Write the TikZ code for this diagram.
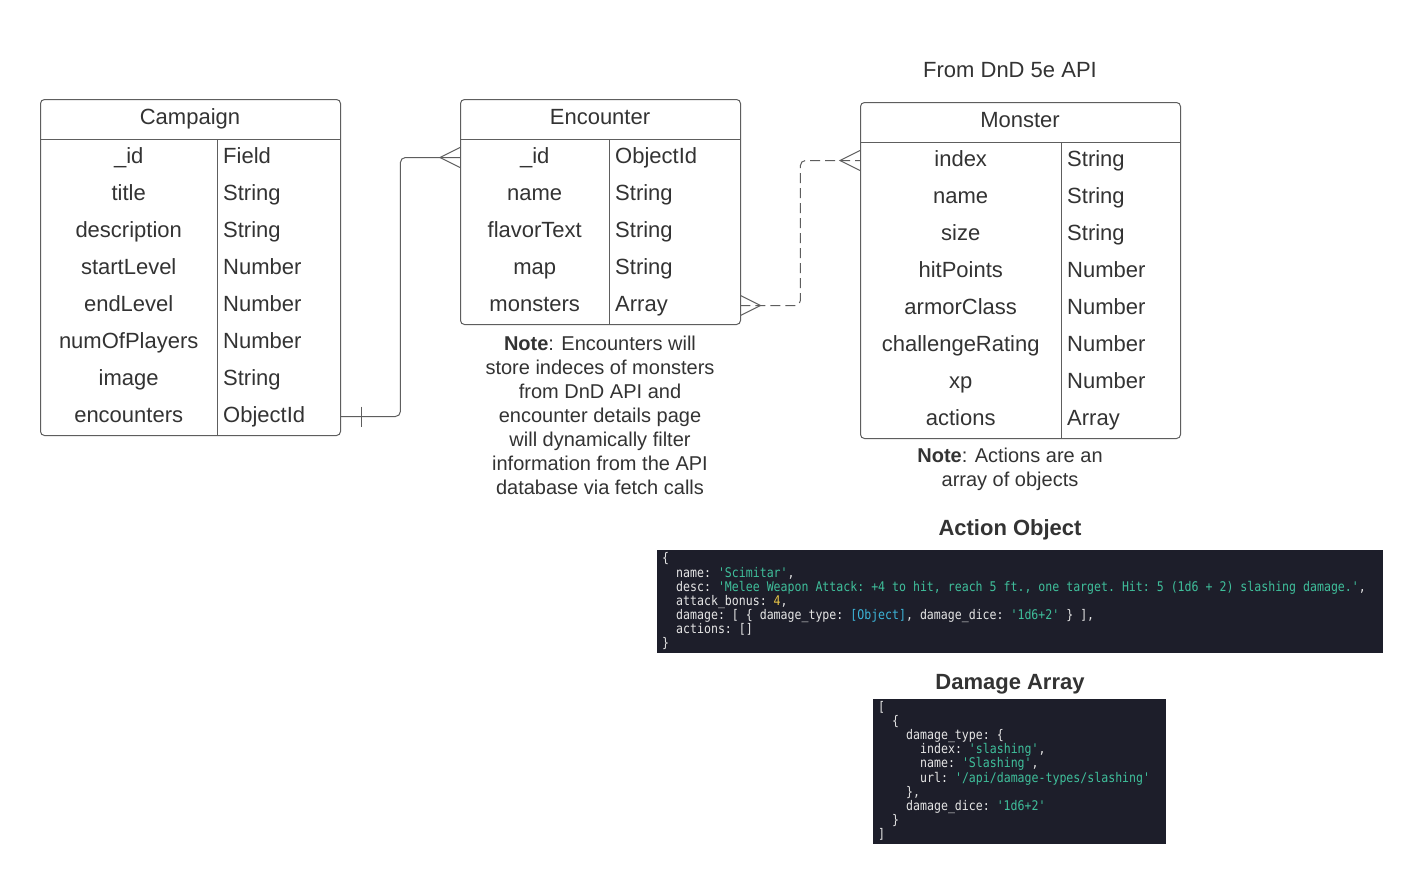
\documentclass[tikz,border=0pt]{standalone}
\usepackage{fontspec}
\setmainfont{Liberation Sans}
\setmonofont{DejaVu Sans Mono}[FakeStretch=0.87]
\usetikzlibrary{calc}
\definecolor{textc}{HTML}{333333}
\definecolor{linec}{HTML}{5E5E5E}
\definecolor{bgc}{HTML}{1D1E2A}
\definecolor{keyc}{HTML}{E6E6E6}
\definecolor{strc}{HTML}{3FBF9B}
\definecolor{numc}{HTML}{E8C547}
\definecolor{objc}{HTML}{3CB4D8}
\tikzset{
  tbox/.style={draw=linec, line width=1pt, rounded corners=4pt, inner sep=0pt, anchor=north west},
  hdr/.style={text=textc, font=\fontsize{22}{26}\selectfont, inner sep=0pt, text height=16pt, text depth=5pt},
  lcell/.style={text=textc, font=\fontsize{22}{26}\selectfont, inner sep=0pt, minimum height=37pt, anchor=west, text height=16pt, text depth=5pt},
  rcell/.style={text=textc, font=\fontsize{22}{26}\selectfont, inner xsep=6pt, inner ysep=0pt, minimum height=37pt, anchor=west, align=left, text height=16pt, text depth=5pt},
  sep/.style={draw=linec, line width=1pt},
  conn/.style={draw=linec, line width=1pt, rounded corners=5pt},
  dconn/.style={conn, dash pattern=on 10pt off 5pt},
  note/.style={text=textc, font=\fontsize{20}{24}\selectfont, align=center, inner sep=0pt},
  title/.style={text=textc, font=\bfseries\fontsize{22}{26}\selectfont, inner sep=0pt, anchor=base},
  codebg/.style={fill=bgc, draw=none, inner sep=0pt, anchor=north west},
  code/.style={text=keyc, font=\ttfamily\fontsize{13.3}{14}\selectfont, inner sep=0pt, anchor=base west}
}
\newcommand\str[1]{\textcolor{strc}{#1}}
\begin{document}
\begin{tikzpicture}[x=1pt,y=-1pt]
\fill[white] (0,0) rectangle (1423,884);
\useasboundingbox (0,0) rectangle (1423,884);

% ---------- Campaign ----------
\node[tbox, minimum width=300pt, minimum height=336pt] (camp) at (40,99) {};
\node[hdr] (camp-h) at (190,119) {Campaign};
\draw[sep] (40,139) -- (340,139);
\draw[sep] (217,139) -- (217,435);
\foreach \f/\t [count=\i] in {\_id/Field, title/String, description/String, startLevel/Number, endLevel/Number, numOfPlayers/Number, image/String, encounters/ObjectId}{
  \node[lcell, minimum width=177pt] (campL\i) at (40,{139+37*\i-18.5}) {\f};
  \node[rcell, text width=111pt] (campT\i) at (217,{139+37*\i-18.5}) {\t};
}

% ---------- Encounter ----------
\node[tbox, minimum width=280pt, minimum height=225pt] (enc) at (460,99) {};
\node[hdr] (enc-h) at (600,119) {Encounter};
\draw[sep] (460,139) -- (740,139);
\draw[sep] (609,139) -- (609,324);
\foreach \f/\t [count=\i] in {\_id/ObjectId, name/String, flavorText/String, map/String, monsters/Array}{
  \node[lcell, minimum width=149pt] (encL\i) at (460,{139+37*\i-18.5}) {\f};
  \node[rcell, text width=119pt] (encT\i) at (609,{139+37*\i-18.5}) {\t};
}

% ---------- Monster ----------
\node[title, font=\fontsize{22}{26}\selectfont] (api) at (1010,77) {From DnD 5e API};
\node[tbox, minimum width=320pt, minimum height=336pt] (mon) at (860,102) {};
\node[hdr] (mon-h) at (1020,122) {Monster};
\draw[sep] (860,142) -- (1180,142);
\draw[sep] (1061,142) -- (1061,438);
\foreach \f/\t [count=\i] in {index/String, name/String, size/String, hitPoints/Number, armorClass/Number, challengeRating/Number, xp/Number, actions/Array}{
  \node[lcell, minimum width=201pt] (monL\i) at (860,{142+37*\i-18.5}) {\f};
  \node[rcell, text width=107pt] (monT\i) at (1061,{142+37*\i-18.5}) {\t};
}

% ---------- Connectors ----------
% Campaign.encounters  -> Encounter._id  (one to many)
\draw[conn] (campT8.east) -- ++(60,0) |- (encL1.west);
\draw[draw=linec, line width=1pt] ($(campT8.east)+(21,-10)$) -- ($(campT8.east)+(21,10)$);
\draw[draw=linec, line width=1pt] ($(encL1.west)+(0,-10)$) -- ($(encL1.west)+(-20,0)$) -- ($(encL1.west)+(0,10)$);
% Encounter.monsters -> Monster.index (many to many, dashed)
\draw[dconn] (encT5.east) -- ++(60,0) |- (monL1.west);
\draw[draw=linec, line width=1pt] ($(encT5.east)+(0,-10)$) -- ($(encT5.east)+(20,0)$) -- ($(encT5.east)+(0,10)$);
\draw[draw=linec, line width=1pt] ($(monL1.west)+(0,-10)$) -- ($(monL1.west)+(-20,0)$) -- ($(monL1.west)+(0,10)$);

% ---------- Notes ----------
\node[note, anchor=north] (enc-note) at (600,336) {\textbf{Note}: Encounters will\\store indeces of monsters\\from DnD API and\\encounter details page\\will dynamically filter\\information from the API\\database via fetch calls};
\node[note, anchor=north] (mon-note) at (1010,448) {\textbf{Note}: Actions are an\\array of objects};

% ---------- Action Object ----------
\node[title] (act-t) at (1010,535) {Action Object};
\node[codebg, minimum width=726pt, minimum height=103pt] (act) at (657,550) {};
\node[code] (a1) at (662,562) {\{};
\node[code] (a2) at (676,577) {name: \str{'Scimitar'},};
\node[code] (a3) at (676,591) {desc: \str{'Melee Weapon Attack: +4 to hit, reach 5 ft., one target. Hit: 5 (1d6 + 2) slashing damage.'},};
\node[code] (a4) at (676,605) {attack\_bonus: \textcolor{numc}{4},};
\node[code] (a5) at (676,619) {damage: [ \{ damage\_type: \textcolor{objc}{[Object]}, damage\_dice: \str{'1d6+2'} \} ],};
\node[code] (a6) at (676,633) {actions: []};
\node[code] (a7) at (662,647) {\}};

% ---------- Damage Array ----------
\node[title] (dmg-t) at (1010,689) {Damage Array};
\node[codebg, minimum width=293pt, minimum height=145pt] (dmg) at (873,699) {};
\node[code] (d1) at (878,711) {[};
\node[code] (d2) at (892,725.2) {\{};
\node[code] (d3) at (906,739.4) {damage\_type: \{};
\node[code] (d4) at (920,753.6) {index: \str{'slashing'},};
\node[code] (d5) at (920,767.8) {name: \str{'Slashing'},};
\node[code] (d6) at (920,782) {url: \str{'/api/damage-types/slashing'}};
\node[code] (d7) at (906,796.2) {\},};
\node[code] (d8) at (906,810.4) {damage\_dice: \str{'1d6+2'}};
\node[code] (d9) at (892,824.6) {\}};
\node[code] (d10) at (878,838.8) {]};
\end{tikzpicture}
\end{document}
